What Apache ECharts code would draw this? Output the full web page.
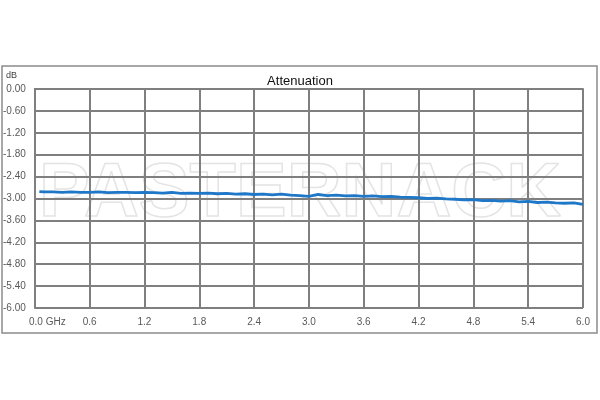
<!DOCTYPE html>
<html><head><meta charset="utf-8">
<script src="https://cdn.jsdelivr.net/npm/echarts@6/dist/echarts.min.js"></script>
<style>html,body{margin:0;padding:0;background:#fff}#c{width:600px;height:400px}</style>
</head><body><div id="c"></div>
<script>
const freqGHz = [0.05,0.1,0.2,0.3,0.4,0.5,0.6,0.7,0.8,0.9,1.0,1.1,1.2,1.3,1.4,1.5,1.6,1.7,1.8,1.9,2.0,2.1,2.2,2.3,2.4,2.5,2.6,2.7,2.8,2.9,3.0,3.1,3.2,3.3,3.4,3.5,3.6,3.7,3.8,3.9,4.0,4.1,4.2,4.3,4.4,4.5,4.6,4.7,4.8,4.9,5.0,5.1,5.2,5.3,5.4,5.5,5.6,5.7,5.8,5.9,6.0];
const attenuationDb = [-2.81,-2.82,-2.82,-2.83,-2.82,-2.83,-2.83,-2.82,-2.84,-2.83,-2.83,-2.84,-2.83,-2.84,-2.85,-2.83,-2.86,-2.85,-2.86,-2.85,-2.87,-2.86,-2.88,-2.87,-2.89,-2.88,-2.90,-2.88,-2.91,-2.92,-2.94,-2.89,-2.92,-2.91,-2.93,-2.92,-2.94,-2.93,-2.95,-2.94,-2.96,-2.97,-2.98,-3.00,-2.99,-3.01,-3.02,-3.04,-3.03,-3.06,-3.05,-3.07,-3.06,-3.09,-3.08,-3.11,-3.10,-3.12,-3.13,-3.12,-3.16];
const xTicks = [0.0,0.6,1.2,1.8,2.4,3.0,3.6,4.2,4.8,5.4,6.0];
const yTicks = [0.00,-0.60,-1.20,-1.80,-2.40,-3.00,-3.60,-4.20,-4.80,-5.40,-6.00];
const titleText = 'Attenuation';
const yUnit = 'dB';
const watermark = 'PASTERNACK';

const chart = echarts.init(document.getElementById('c'));
const font = 'Liberation Sans, Arial, sans-serif';
const gridColor = '#7f7f7f';
chart.setOption({
  animation: false,
  title: {text: titleText, left: 'center', top: 70, textStyle: {fontFamily: font, fontSize: 13, fontWeight: 'normal', color: '#111'}},
  graphic: [
    {type: 'rect', z: -20, shape: {x: 2, y: 66, width: 595, height: 267}, style: {fill: '#fff', stroke: '#8c8c8c', lineWidth: 1.5}},
    {type: 'text', z: 5, left: 6, top: 71, style: {text: yUnit, fontFamily: font, fontSize: 9, fill: '#404040'}},
    {type: 'text', z: -5, x: 300, y: 195, style: {text: watermark, fontFamily: font, fontSize: 76, fontWeight: 'bold', fill: 'rgba(255,255,255,0)', stroke: '#e4e4e4', lineWidth: 1.5, align: 'center', verticalAlign: 'middle'}}
  ],
  grid: {left: 34, right: 17, top: 89, bottom: 92, containLabel: false},
  xAxis: {
    type: 'value', min: 0, max: 6, interval: 0.6,
    axisLine: {show: true, lineStyle: {color: gridColor, width: 2}},
    axisTick: {show: false},
    splitLine: {show: true, lineStyle: {color: gridColor, width: 2}},
    axisLabel: {
      margin: 9, fontFamily: font, fontSize: 10, color: '#595959',
      formatter: v => {
        const t = xTicks.find(x => Math.abs(x - v) < 1e-6);
        const s = (t === undefined ? v : t).toFixed(1);
        return Math.abs(v) < 1e-6 ? '{pad|}' + s + ' GHz' : s;
      },
      rich: {pad: {width: 25}}
    }
  },
  yAxis: {
    type: 'value', min: -6, max: 0, interval: 0.6,
    axisLine: {show: true, lineStyle: {color: gridColor, width: 2}},
    axisTick: {show: false},
    splitLine: {show: true, lineStyle: {color: gridColor, width: 2}},
    axisLabel: {
      margin: 9, fontFamily: font, fontSize: 10, color: '#595959',
      formatter: v => {
        const t = yTicks.find(y => Math.abs(y - v) < 1e-6);
        return (t === undefined ? v : t).toFixed(2);
      }
    }
  },
  series: [{
    type: 'line', showSymbol: false, smooth: false,
    data: freqGHz.map((f, i) => [f, attenuationDb[i]]),
    lineStyle: {color: '#1f77c8', width: 2.8},
    z: 10
  }]
});
</script></body></html>
